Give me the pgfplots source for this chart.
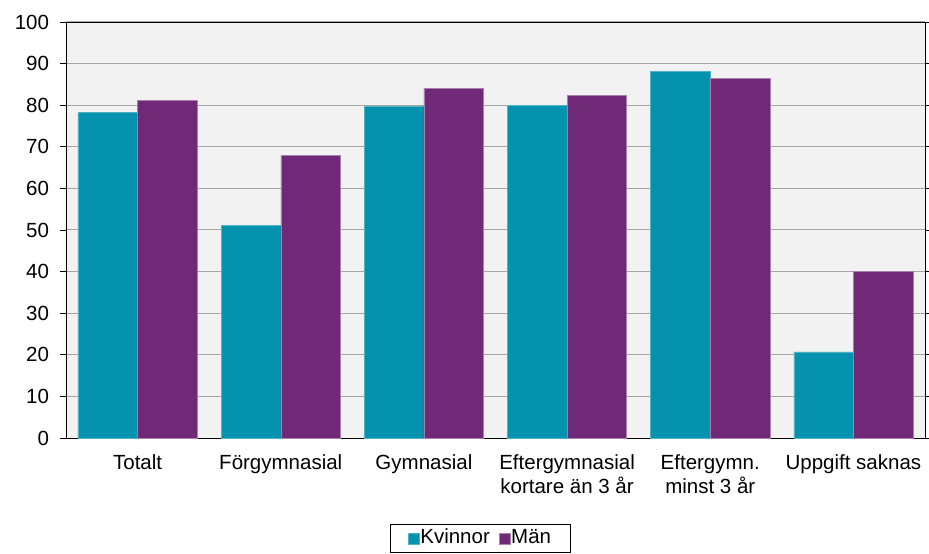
\documentclass[border=0pt]{standalone}
\usepackage{pgfplots}
\pgfplotsset{compat=1.18}
\usepackage{fontspec}
\setmainfont{Liberation Sans}
\definecolor{teal1}{RGB}{4,146,174}
\definecolor{purp1}{RGB}{111,41,119}
\definecolor{bgg}{RGB}{242,242,242}
\definecolor{gridg}{RGB}{166,166,166}
\begin{document}
\fontsize{20.5bp}{24bp}\selectfont
\begin{tikzpicture}
\path[use as bounding box] (-66bp,-116bp) rectangle (863bp,438bp);
\begin{axis}[
  at={(0,0)}, anchor=south west,
  scale only axis, width=859bp, height=416bp,
  ymin=0, ymax=100, ytick={0,10,...,100},
  xmin=-0.5, xmax=5.5,
  xtick={0,...,5},
  xticklabels={Totalt,Förgymnasial,Gymnasial,{Eftergymnasial\\kortare än 3 år},{Eftergymn.\\minst 3 år},Uppgift saknas},
  xticklabel style={align=center, font=\fontsize{20.5bp}{24bp}\selectfont, yshift=-4bp},
  yticklabel style={font=\fontsize{20.5bp}{24bp}\selectfont, xshift=-4bp},
  /pgf/number format/assume math mode=true,
  major x tick style={draw=none},
  major y tick style={black, line width=0.8bp},
  ytick align=outside, major tick length=6bp,
  ymajorgrids, grid style={gridg, line width=1bp},
  axis background/.style={fill=bgg},
  axis line style={black, line width=0.9bp},
  ybar, bar width=59.6bp,
  legend columns=2,
  legend style={at={(0.482,-0.207)}, anchor=north, draw=black, line width=0.6bp,
    font=\fontsize{20.5bp}{24bp}\selectfont, inner xsep=18bp, inner ysep=2bp,
    nodes={text height=15bp, text depth=5bp, inner xsep=1bp},
    /tikz/every even column/.append style={column sep=8bp}},
  legend image code/.code={\fill[#1] (0bp,-5.5bp) rectangle (11bp,5.5bp);},
]
\addplot[fill=teal1, draw=teal1!70!white, line width=0.4bp, bar shift=-29.8bp] coordinates {(0,78.3) (1,51.2) (2,79.7) (3,80.0) (4,88.1) (5,20.7)};
\addplot[fill=purp1, draw=purp1!60!white, line width=0.4bp, bar shift=29.8bp] coordinates {(0,81.1) (1,67.9) (2,84.0) (3,82.4) (4,86.5) (5,40.0)};
\legend{Kvinnor,Män}
\end{axis}
\end{tikzpicture}
\end{document}
